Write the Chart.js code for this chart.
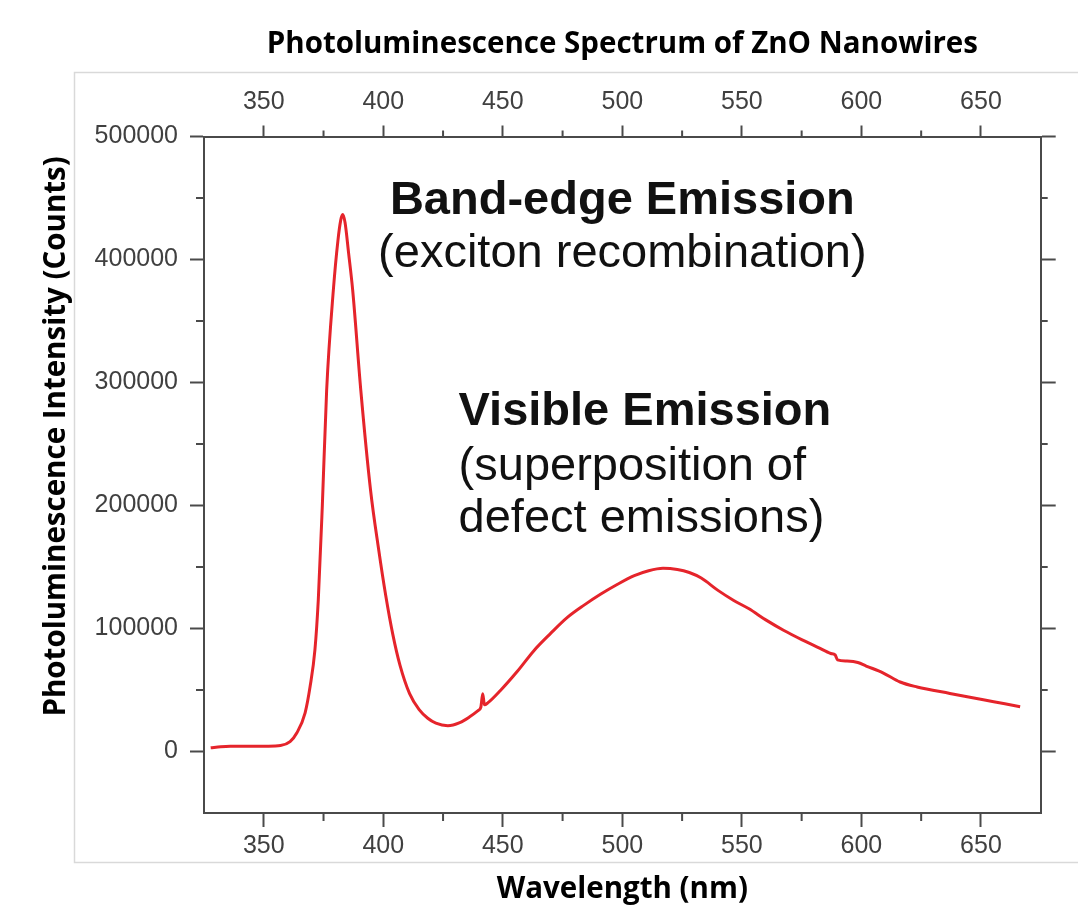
<!DOCTYPE html>
<html>
<head>
<meta charset="utf-8">
<title>Photoluminescence Spectrum of ZnO Nanowires</title>
<script src="https://cdn.jsdelivr.net/npm/chart.js@4.4.0/dist/chart.umd.min.js"></script>
<style>
    html, body { margin: 0; padding: 0; background: #fff; }
    canvas { display: block; }
</style>
</head>
<body>
<canvas id="plChart" width="1078" height="908"></canvas>
<script>
// Spectre PL
const wavelength = [327.8, 332, 336, 345, 352, 357, 361, 363.8, 367.3, 369.4, 371.4, 372.8, 374.5, 376.3, 379.1, 381, 382.2, 383, 384, 385.5, 387.2, 390.6, 394.7, 398, 401, 404, 407, 411, 415, 418.6, 422, 427, 432, 436, 439.5, 440.8, 441.6, 442.3, 443.7, 449, 456, 463, 470, 477, 484, 491, 498, 505, 511, 517, 523, 528, 533, 540, 546.6, 553, 560, 567.6, 575, 582, 587.2, 589, 590, 594, 598.5, 602, 609, 616.2, 623.3, 637, 651, 660, 666.4];
const intensity = [3000, 3800, 4200, 4300, 4300, 4800, 8000, 15000, 31500, 53000, 82700, 123000, 200000, 293500, 375000, 415000, 432000, 436500, 430000, 405000, 375000, 293500, 212000, 165000, 127000, 95000, 70000, 47000, 34000, 27000, 23000, 21000, 23500, 28000, 33000, 36000, 47000, 38000, 39500, 49600, 65000, 82000, 96000, 109000, 119000, 128000, 136000, 143000, 147000, 149000, 148000, 145500, 141000, 131000, 122800, 116000, 107000, 98400, 91000, 84500, 79700, 78500, 74500, 73500, 72400, 69500, 64000, 56500, 52500, 47200, 42000, 38800, 36400];

const xTicks = [350, 400, 450, 500, 550, 600, 650];
const xMinorTicks = [375, 425, 475, 525, 575, 625];
const yTicks = [0, 100000, 200000, 300000, 400000, 500000];
const yMinorTicks = [50000, 150000, 250000, 350000, 450000];

// Annotations (position en unités des axes)
const notes = [
    { text: 'Band-edge Emission', x: 500, y: 436700, bold: true, align: 'center' },
    { text: '(exciton recombination)', x: 500, y: 394300, bold: false, align: 'center' },
    { text: 'Visible Emission', x: 431.5, y: 265800, bold: true, align: 'left' },
    { text: '(superposition of', x: 431.5, y: 221100, bold: false, align: 'left' },
    { text: 'defect emissions)', x: 431.5, y: 178800, bold: false, align: 'left' }
];

const axisColor = '#4a4a4a';
const tickFont = { family: 'Liberation Sans, Arial, sans-serif', size: 25 };
const titleFont = { family: 'Open Sans, sans-serif', size: 29.5, weight: 'bold' };

// cadre gris clair de l'image d'origine
const framePlugin = {
    id: 'frame',
    beforeDraw(chart) {
        const ctx = chart.ctx;
        ctx.save();
        ctx.fillStyle = '#fff';
        ctx.fillRect(0, 0, chart.width, chart.height);
        ctx.strokeStyle = '#d9d9d9';
        ctx.lineWidth = 1.5;
        ctx.beginPath();
        ctx.moveTo(chart.width, 72.5);
        ctx.lineTo(74.5, 72.5);
        ctx.lineTo(74.5, 862.5);
        ctx.lineTo(chart.width, 862.5);
        ctx.stroke();
        ctx.restore();
    }
};

// petites graduations intermédiaires
const minorTickPlugin = {
    id: 'minorTicks',
    afterDraw(chart) {
        const ctx = chart.ctx;
        const s = chart.scales;
        ctx.save();
        ctx.strokeStyle = axisColor;
        ctx.lineWidth = 2;
        ctx.beginPath();
        xMinorTicks.forEach(v => {
            const px = s.x.getPixelForValue(v);
            ctx.moveTo(px, s.x.top); ctx.lineTo(px, s.x.top + 8);
            const px2 = s.x2.getPixelForValue(v);
            ctx.moveTo(px2, s.x2.bottom); ctx.lineTo(px2, s.x2.bottom - 6);
        });
        yMinorTicks.forEach(v => {
            const py = s.y.getPixelForValue(v);
            ctx.moveTo(s.y.right, py); ctx.lineTo(s.y.right - 8, py);
            const py2 = s.y2.getPixelForValue(v);
            ctx.moveTo(s.y2.left, py2); ctx.lineTo(s.y2.left + 7, py2);
        });
        ctx.stroke();
        ctx.restore();
    }
};

const notesPlugin = {
    id: 'notes',
    afterDatasetsDraw(chart) {
        const ctx = chart.ctx;
        ctx.save();
        ctx.fillStyle = '#111';
        ctx.textBaseline = 'alphabetic';
        notes.forEach(n => {
            ctx.font = (n.bold ? 'bold ' : '') + '47px "Liberation Sans", Arial, sans-serif';
            ctx.textAlign = n.align;
            ctx.fillText(n.text, chart.scales.x.getPixelForValue(n.x), chart.scales.y.getPixelForValue(n.y));
        });
        ctx.restore();
    }
};

function setTicks(values) {
    return scale => { scale.ticks = values.map(v => ({ value: v })); };
}

const gridOpts = len => ({ drawOnChartArea: false, drawTicks: true, tickLength: len, tickWidth: 2, tickColor: axisColor });
const borderOpts = { color: axisColor, width: 2 };

new Chart(document.getElementById('plChart'), {
    type: 'line',
    data: {
        datasets: [{
            data: wavelength.map((w, i) => ({ x: w, y: intensity[i] })),
            borderColor: '#e5242b',
            borderWidth: 3,
            pointRadius: 0,
            cubicInterpolationMode: 'monotone',
            xAxisID: 'x',
            yAxisID: 'y'
        }]
    },
    options: {
        responsive: false,
        animation: false,
        layout: { padding: 0 },
        plugins: {
            legend: { display: false },
            tooltip: { enabled: false },
            title: {
                display: true,
                fullSize: false,
                text: 'Photoluminescence Spectrum of ZnO Nanowires',
                color: '#000',
                font: titleFont,
                padding: { top: 27.3, bottom: 0 }
            }
        },
        scales: {
            x: {
                type: 'linear', position: 'bottom', min: 325, max: 675,
                afterBuildTicks: setTicks(xTicks),
                afterFit: s => { s.height = 95; },
                ticks: { font: tickFont, color: '#404040', padding: 4, maxRotation: 0, autoSkip: false },
                grid: gridOpts(14),
                border: borderOpts,
                title: { display: true, text: 'Wavelength (nm)', color: '#000', font: titleFont, padding: { top: 0, bottom: 0.5 } }
            },
            x2: {
                type: 'linear', position: 'top', min: 325, max: 675,
                afterBuildTicks: setTicks(xTicks),
                afterFit: s => { s.height = 73.8; },
                ticks: { font: tickFont, color: '#404040', padding: 8, maxRotation: 0, autoSkip: false },
                grid: gridOpts(11),
                border: borderOpts
            },
            y: {
                type: 'linear', position: 'left', min: -50000, max: 500000,
                afterBuildTicks: setTicks(yTicks),
                afterFit: s => { s.width = 204; },
                ticks: { font: tickFont, color: '#404040', padding: 12, autoSkip: false, callback: v => String(v) },
                grid: gridOpts(14),
                border: borderOpts,
                title: { display: true, text: '          Photoluminescence Intensity (Counts)', color: '#000', font: titleFont, padding: { top: 39.3, bottom: 0 } }
            },
            y2: {
                type: 'linear', position: 'right', min: -50000, max: 500000,
                afterBuildTicks: setTicks(yTicks),
                afterFit: s => { s.width = 37.3; },
                ticks: { display: false },
                grid: gridOpts(15),
                border: borderOpts
            }
        }
    },
    plugins: [framePlugin, minorTickPlugin, notesPlugin]
});
</script>
</body>
</html>
